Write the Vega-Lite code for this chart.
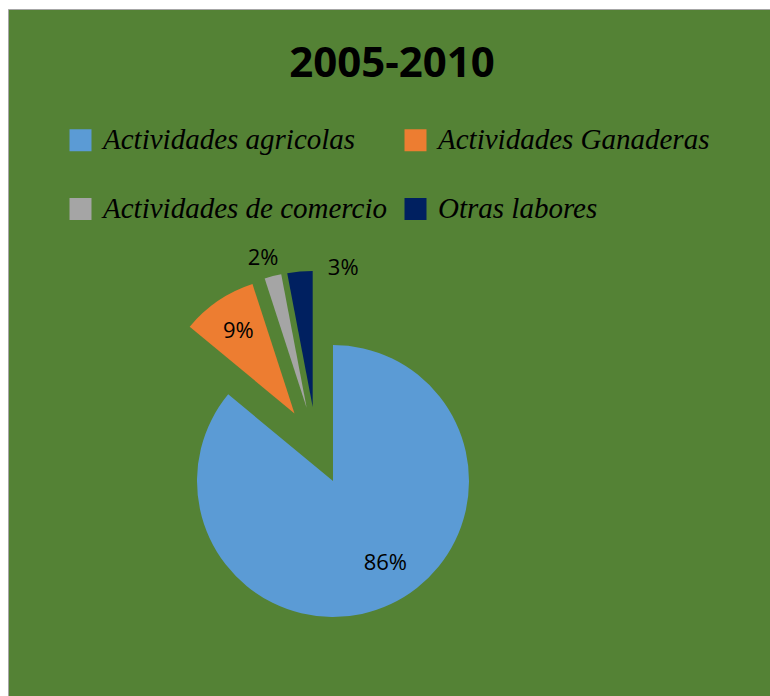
{
  "$schema": "https://vega.github.io/schema/vega-lite/v6.json",
  "width": 762,
  "height": 687,
  "autosize": {"type": "none"},
  "padding": {"left": 8, "top": 9, "right": 0, "bottom": 0},
  "background": "white",
  "view": {"fill": "#548235", "stroke": "#a6a6a6", "strokeWidth": 1},
  "config": {"view": {"fill": "#548235", "stroke": "#a6a6a6", "strokeWidth": 1}},
  "title": {"text": "2005-2010", "font": "Open Sans", "fontSize": 42, "fontWeight": "bold", "color": "black", "anchor": "middle", "baseline": "alphabetic", "offset": -69, "dx": 3, "dy": 41},
  "data": {"values": [
    {"actividad": "Actividades agricolas", "porcentaje": 86, "etiqueta": "86%", "orden": 1},
    {"actividad": "Actividades Ganaderas", "porcentaje": 9, "etiqueta": "9%", "orden": 2},
    {"actividad": "Actividades de comercio", "porcentaje": 2, "etiqueta": "2%", "orden": 3},
    {"actividad": "Otras labores", "porcentaje": 3, "etiqueta": "3%", "orden": 4}
  ]},
  "encoding": {
    "theta": {"field": "porcentaje", "type": "quantitative", "stack": true},
    "order": {"field": "orden", "type": "ordinal"}
  },
  "layer": [
    {
      "mark": {"type": "arc", "radius": 136, "x": 308.4, "y": 436.7, "xOffset": 16.6, "yOffset": 35.3, "strokeWidth": 0},
      "encoding": {
        "color": {"field": "actividad", "type": "nominal",
          "scale": {"domain": ["Actividades agricolas", "Actividades Ganaderas", "Actividades de comercio", "Otras labores"], "range": ["#5B9BD5", "#ED7D31", "#A5A5A5", "#002060"]},
          "legend": {"title": null, "orient": "none", "legendX": 58, "legendY": 116.5, "columns": 2, "direction": "horizontal", "symbolType": "square", "symbolSize": 484, "symbolStrokeWidth": 0, "labelFont": "Liberation Serif", "labelFontStyle": "italic", "labelFontSize": 29, "labelColor": "black", "labelLimit": 500, "labelOffset": 8, "columnPadding": 14, "rowPadding": 39, "padding": 0}},
        "opacity": {"condition": {"test": "datum.actividad === 'Actividades agricolas'", "value": 1}, "value": 0}
      }
    },
    {
      "mark": {"type": "arc", "radius": 136, "x": 308.4, "y": 436.7, "xOffset": -21.9, "yOffset": -32.3, "strokeWidth": 0},
      "encoding": {
        "color": {"field": "actividad", "type": "nominal"},
        "opacity": {"condition": {"test": "datum.actividad === 'Actividades Ganaderas'", "value": 1}, "value": 0}
      }
    },
    {
      "mark": {"type": "arc", "radius": 136, "x": 308.4, "y": 436.7, "xOffset": -9.7, "yOffset": -37.8, "strokeWidth": 0},
      "encoding": {
        "color": {"field": "actividad", "type": "nominal"},
        "opacity": {"condition": {"test": "datum.actividad === 'Actividades de comercio'", "value": 1}, "value": 0}
      }
    },
    {
      "mark": {"type": "arc", "radius": 136, "x": 308.4, "y": 436.7, "xOffset": -3.7, "yOffset": -38.8, "strokeWidth": 0},
      "encoding": {
        "color": {"field": "actividad", "type": "nominal"},
        "opacity": {"condition": {"test": "datum.actividad === 'Otras labores'", "value": 1}, "value": 0}
      }
    },
    {
      "mark": {"type": "text", "radius": 97, "x": 308.4, "y": 436.7, "xOffset": 16.6, "yOffset": 35.3, "dx": 11, "dy": -6, "font": "Open Sans", "fontSize": 22, "color": "black"},
      "encoding": {
        "text": {"field": "etiqueta", "type": "nominal"},
        "detail": {"field": "actividad", "type": "nominal"},
        "opacity": {"condition": {"test": "datum.actividad === 'Actividades agricolas'", "value": 1}, "value": 0}
      }
    },
    {
      "mark": {"type": "text", "radius": 100, "x": 308.4, "y": 436.7, "xOffset": -21.9, "yOffset": -32.3, "font": "Open Sans", "fontSize": 22, "color": "black"},
      "encoding": {
        "text": {"field": "etiqueta", "type": "nominal"},
        "detail": {"field": "actividad", "type": "nominal"},
        "opacity": {"condition": {"test": "datum.actividad === 'Actividades Ganaderas'", "value": 1}, "value": 0}
      }
    },
    {
      "mark": {"type": "text", "radius": 155, "x": 308.4, "y": 436.7, "xOffset": -9.7, "yOffset": -37.8, "dx": -5, "font": "Open Sans", "fontSize": 22, "color": "black"},
      "encoding": {
        "text": {"field": "etiqueta", "type": "nominal"},
        "detail": {"field": "actividad", "type": "nominal"},
        "opacity": {"condition": {"test": "datum.actividad === 'Actividades de comercio'", "value": 1}, "value": 0}
      }
    },
    {
      "mark": {"type": "text", "radius": 143, "x": 308.4, "y": 436.7, "xOffset": -3.7, "yOffset": -38.8, "dx": 44, "dy": 3, "font": "Open Sans", "fontSize": 22, "color": "black"},
      "encoding": {
        "text": {"field": "etiqueta", "type": "nominal"},
        "detail": {"field": "actividad", "type": "nominal"},
        "opacity": {"condition": {"test": "datum.actividad === 'Otras labores'", "value": 1}, "value": 0}
      }
    }
  ]
}
